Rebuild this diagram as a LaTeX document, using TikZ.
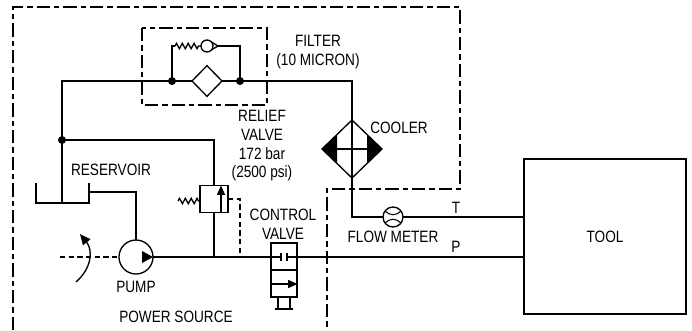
\documentclass[tikz,border=0pt]{standalone}
\usepackage{fontspec}
\setmainfont{Liberation Sans}[FakeStretch=0.83]
\usetikzlibrary{arrows.meta,calc,decorations.pathmorphing,shapes.geometric}
\begin{document}
\begin{tikzpicture}[x=0.75pt,y=-0.75pt,line width=1pt,
  lbl/.style={font=\fontsize{12.3}{14}\selectfont, align=center, inner sep=0},
  border/.style={line width=0.85pt, dash pattern=on 10pt off 3pt on 4pt off 3pt},
  pilot/.style={line width=0.85pt, dash pattern=on 4pt off 2.5pt},
  dot/.style={circle, fill, inner sep=0, minimum size=6pt},
  spring/.style={decorate, decoration={zigzag, segment length=4.4pt, amplitude=2pt}},
  tipx/.style={-{Triangle[length=7pt,width=6pt]}},
  comp/.style={draw, inner sep=0, outer sep=0},
]
\useasboundingbox (0,0) rectangle (692,330);

% power source boundary and filter housing
\draw[border] (13,330) -- (13,7) -- (460,7) -- (460,189) -- (327,189) -- (327,330);
\draw[border] (142,28) rectangle (267,105);

% components
\node[comp, circle, minimum size=25.5pt] (pump) at (136,257) {};
\fill (pump.east) -- ++(-11,-6) -- ++(0,12) -- cycle;
\node[comp, diamond, minimum width=22.5pt, minimum height=23pt] (felem) at (207,81) {};
\node[dot] (dL) at (172,81) {};
\node[dot] (dR) at (240,81) {};
\node[dot] (dJ) at (62,140) {};
\node[comp, circle, minimum size=9pt] (ball) at (207,46) {};
\node[comp, diamond, minimum width=45pt, minimum height=43.5pt] (cool) at (352,149) {};
\node[comp, circle, minimum size=15pt] (fm) at (393,217) {};
\node[comp, minimum width=21pt, minimum height=20.25pt] (rv) at (214,199) {};
\node[comp, minimum width=19.5pt, minimum height=40.5pt] (cv) at (284,270) {};
\node[comp, minimum width=121.5pt, minimum height=116.25pt, font=\fontsize{12.3}{14}\selectfont] (tool) at (605,236.5) {TOOL};

% coordinates
\coordinate (resL) at (36,183);
\coordinate (resR) at (89,183);
\coordinate (resIn) at (62,203);
\coordinate (pTank) at (89,192);
\coordinate (topL) at (62,81);
\coordinate (topR) at (352,81);
\coordinate (byL) at (172,46);
\coordinate (byR) at (240,46);
\coordinate (seat) at (218,46);
\coordinate (rvTop) at (214,140);
\coordinate (rvBot) at (214,257);
\coordinate (pilotTop) at (240,199);
\coordinate (pilotBot) at (240,257);
\coordinate (tLine) at (352,217);
\coordinate (cvIn) at (281,257);
\coordinate (cvOut) at (287,257);
\coordinate (shaft) at (60,257);

% reservoir
\draw (resL) -- (resL |- resIn) -- (resR |- resIn) -- (resR);
% suction line
\draw (pump.north) |- (pTank);
% return line
\draw (resIn) -- (topL) -- (dL.center) -- (felem.west);
\draw (felem.east) -- (dR.center) -- (topR) -- (cool.north);
% filter bypass check valve
\draw (dL.center) -- (byL) -- (175,46);
\draw[spring] (175,46) -- (ball.west);
\draw (ball.40) -- (seat) -- (ball.-40);
\draw (seat) -- (byR) -- (dR.center);
% cooler symbol
\fill (cool.west) -- ($(cool.west)!0.5!(cool.north)$) -- ($(cool.west)!0.5!(cool.south)$) -- cycle;
\fill (cool.east) -- ($(cool.east)!0.5!(cool.north)$) -- ($(cool.east)!0.5!(cool.south)$) -- cycle;
\draw (cool.north) -- (cool.south);
\draw ($(cool.west)!0.5!(cool.center)$) -- ($(cool.east)!0.5!(cool.center)$);
% tank line to tool
\draw (cool.south) -- (tLine) -- (fm.west);
\draw (fm.east) -- (fm.east -| tool.west);
\draw[line width=0.8pt] ($(fm.center)+(-8,-6)$) .. controls ($(fm.center)+(-3,-1)$) and ($(fm.center)+(3,-1)$) .. ($(fm.center)+(8,-6)$);
\draw[line width=0.8pt] ($(fm.center)+(-8,6)$) .. controls ($(fm.center)+(-3,1)$) and ($(fm.center)+(3,1)$) .. ($(fm.center)+(8,6)$);
% relief valve
\draw (dJ.center) -- (rvTop) -- (rv.north);
\draw (rv.south) -- (rvBot);
\draw[tipx] (221,213) -- (221,185.5);
\draw[spring] (178,201) -- (rv.west |- 0,201);
\draw[pilot] (rv.east) -- (pilotTop) -- (pilotBot);
% pressure line
\draw (pump.east) -- (cvIn);
\draw (cvOut) -- (cvOut -| tool.west);
\draw (cvIn) ++(0,-4) -- ++(0,8);
\draw (cvOut) ++(0,-4) -- ++(0,8);
% control valve
\draw (cv.west) -- (cv.east);
\draw[tipx] (271,284) -- (297.5,284);
\draw[line width=0.8pt] (278,297) -- (278,309);
\draw[line width=0.8pt] (290,297) -- (290,309);
\draw (275,309) -- (293,309);
% pump drive
\draw[pilot] (shaft) -- (pump.west);
\draw[-{Triangle[length=8pt,width=7pt]}] (76,282) .. controls (92,268) and (93,250) .. (80,234);

% labels
\node[lbl] (lPump) at (136,287) {PUMP};
\node[lbl] (lPower) at (176,317) {POWER SOURCE};
\node[lbl] (lRes) at (111,170) {RESERVOIR};
\node[lbl] (lRelief) at (262,146) {RELIEF\\VALVE\\172 bar\\(2500 psi)};
\node[lbl] (lFilter) at (318,52) {FILTER\\(10 MICRON)};
\node[lbl] (lCool) at (399,128) {COOLER};
\node[lbl] (lCv) at (283,224) {CONTROL\\VALVE};
\node[lbl] (lFm) at (393,237) {FLOW METER};
\node[lbl] (lT) at (456,208) {T};
\node[lbl] (lP) at (456,247) {P};
\end{tikzpicture}
\end{document}
